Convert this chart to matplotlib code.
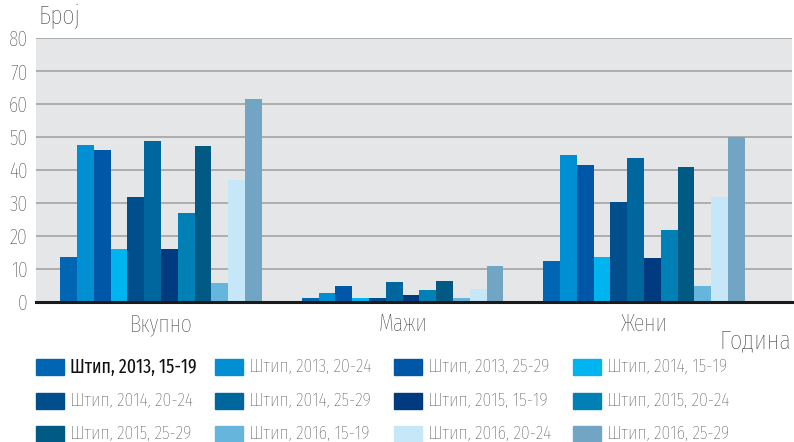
import matplotlib.pyplot as plt
from matplotlib.patches import Rectangle
import numpy as np

plt.rcParams['font.family'] = ['Fira Sans Extra Condensed', 'Roboto', 'DejaVu Sans']
plt.rcParams['font.weight'] = 'light'

# data
categories = ['Вкупно', 'Мажи', 'Жени']
series = ['Штип, 2013, 15-19', 'Штип, 2013, 20-24', 'Штип, 2013, 25-29',
          'Штип, 2014, 15-19', 'Штип, 2014, 20-24', 'Штип, 2014, 25-29',
          'Штип, 2015, 15-19', 'Штип, 2015, 20-24', 'Штип, 2015, 25-29',
          'Штип, 2016, 15-19', 'Штип, 2016, 20-24', 'Штип, 2016, 25-29']
vkupno = [13.7, 47.6, 46.0, 16.1, 31.8, 48.8, 16.1, 27.0, 47.3, 5.8, 37.0, 61.5]
mazi = [1.3, 2.8, 4.9, 1.3, 1.3, 6.0, 2.2, 3.7, 6.4, 1.3, 3.8, 11.0]
zeni = [12.5, 44.5, 41.5, 13.7, 30.3, 43.6, 13.4, 21.9, 40.9, 4.9, 31.8, 50.0]
colors = ['#0066b3', '#008fd3', '#0057a8', '#00b5ef', '#004e8c', '#00679e',
          '#003b80', '#0080b4', '#005a84', '#66b5dc', '#c6e7f8', '#72a5c4']

values = np.array([vkupno, mazi, zeni])

fig = plt.figure(figsize=(7.94, 4.42), dpi=100)
ax = fig.add_axes([36 / 794, 1 - 302 / 442, 756 / 794, 264 / 442])
ax.set_facecolor('#e5e6e8')

w = 0.0696
x = np.arange(len(categories))
for i in range(len(series)):
    ax.bar(x + (i - 5.5) * w, values[:, i], width=w, color=colors[i], zorder=3)

ax.set_xlim(-0.518, 2.613)
ax.set_ylim(0, 80)
ax.set_yticks(range(0, 81, 10))
ax.yaxis.grid(True, color='#a3a3a3', linewidth=1.2, zorder=1)
for s in ['top', 'right', 'left']:
    ax.spines[s].set_visible(False)
ax.spines['bottom'].set_color('#1a1a1a')
ax.spines['bottom'].set_linewidth(2.2)
ax.spines['bottom'].set_zorder(4)
ax.tick_params(axis='both', length=0, labelcolor='#2e2e2e')
ax.tick_params(axis='y', pad=6, labelsize=15.5)
ax.set_xticks(x)
ax.set_xticklabels(categories)
ax.tick_params(axis='x', pad=8, labelsize=17)

fig.text(38 / 794, 1 - 17 / 442, 'Број', fontsize=19, color='#2e2e2e', va='center')
fig.text(791 / 794, 1 - 341 / 442, 'Година', fontsize=19, color='#2e2e2e', va='center', ha='right')

# legend, row by row
for i, name in enumerate(series):
    col = i % 4
    row = i // 4
    px = 36 + col * 179
    py = 367 + row * 33.5
    fig.add_artist(Rectangle((px / 794, 1 - (py + 8) / 442), 28 / 794, 16 / 442,
                             color=colors[i], transform=fig.transFigure))
    fig.text((px + 34) / 794, 1 - py / 442, name, fontsize=14,
             color='#111111' if i == 0 else '#3c3c3c',
             weight='normal' if i == 0 else 'light', va='center')

plt.savefig('out.png', dpi=100)
